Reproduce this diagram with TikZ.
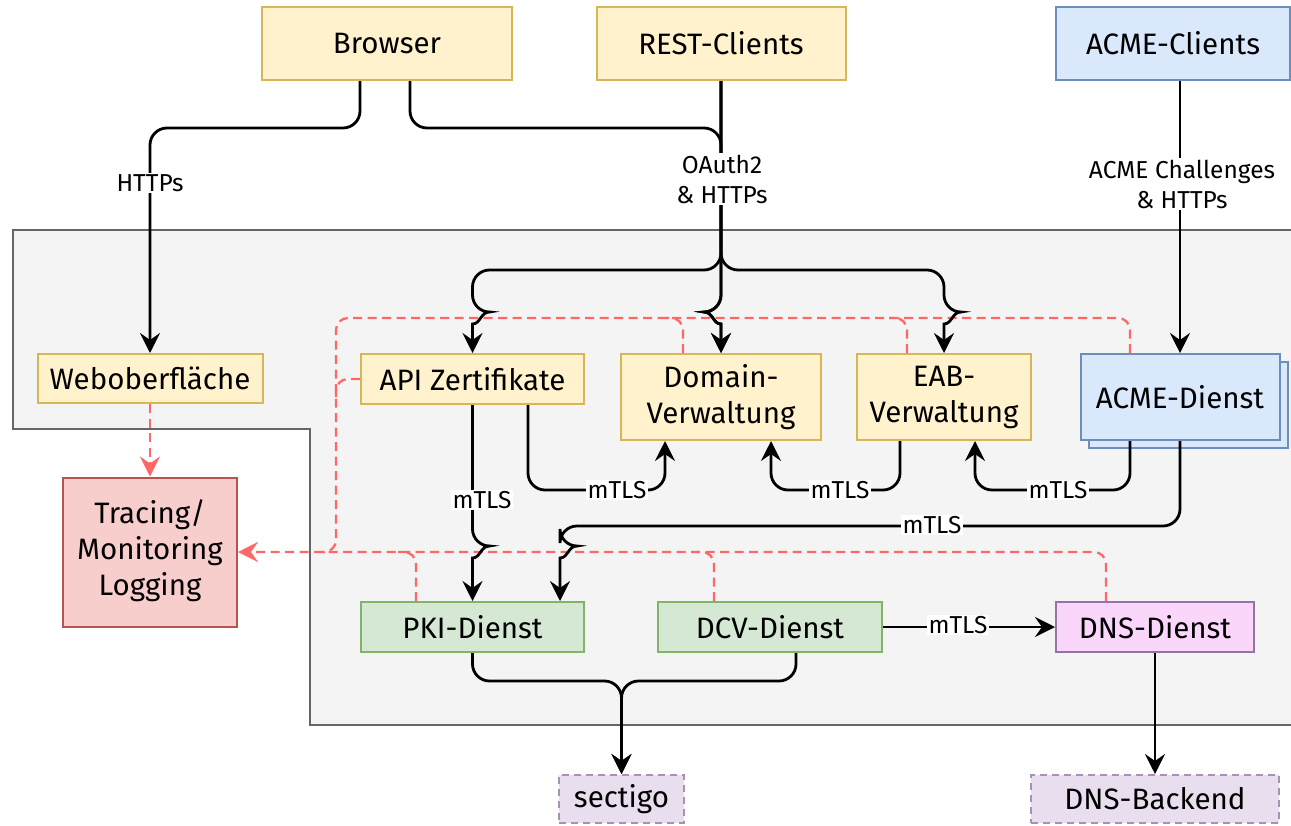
\documentclass[tikz,border=0pt]{standalone}
\usepackage{fontspec}
\setmainfont{Fira Sans}
\usetikzlibrary{arrows.meta}
\definecolor{yfill}{HTML}{FFF2CC}\definecolor{ydraw}{HTML}{D6B656}
\definecolor{bfill}{HTML}{DAE8FC}\definecolor{bdraw}{HTML}{6C8EBF}
\definecolor{rfill}{HTML}{F8CECC}\definecolor{rdraw}{HTML}{B85450}
\definecolor{gfill}{HTML}{D5E8D4}\definecolor{gdraw}{HTML}{82B366}
\definecolor{pfill}{HTML}{FAD7FA}\definecolor{pdraw}{HTML}{9673A6}
\definecolor{lfill}{HTML}{E8DEEE}
\definecolor{cfill}{HTML}{F4F4F4}\definecolor{cdraw}{HTML}{666666}
\definecolor{redd}{HTML}{FF6666}
\tikzset{
  box/.style={draw, line width=2pt, font=\fontsize{29.5}{36}\selectfont, align=center, inner sep=0pt},
  ybox/.style={box, fill=yfill, draw=ydraw},
  bbox/.style={box, fill=bfill, draw=bdraw},
  gbox/.style={box, fill=gfill, draw=gdraw},
  extbox/.style={box, fill=lfill, draw=pdraw!80, dashed, dash pattern=on 7pt off 5pt},
  tip/.style={-{Stealth[length=20pt,width=20pt,inset=7pt]}},
  conn/.style={line width=2.8pt, rounded corners=17pt, tip},
  red/.style={draw=redd, line width=2.3pt, dash pattern=on 9pt off 5.5pt, rounded corners=12pt},
  redarr/.style={red, tip, color=redd},
  lbl/.style={fill=white, inner sep=1.5pt, font=\fontsize{24.5}{30}\selectfont, align=center},
}
\begin{document}
\begin{tikzpicture}[x=1pt,y=-1pt]
\useasboundingbox (0,0) rectangle (1291,825);
% container
\draw[fill=cfill, draw=cdraw, line width=2pt] (13,230) -- (1292,230) -- (1292,725) -- (310,725) -- (310,429) -- (13,429) -- cycle;

% nodes
\node[ybox, minimum width=250, minimum height=73] (browser) at (387,43.5) {Browser};
\node[ybox, minimum width=249, minimum height=73] (rest) at (721,43.5) {REST-Clients};
\node[bbox, minimum width=234, minimum height=73] (acmec) at (1173,43.5) {ACME-Clients};
\node[ybox, minimum width=225, minimum height=49] (web) at (150,378.5) {Weboberfläche};
\node[ybox, minimum width=223, minimum height=50] (api) at (472.5,379) {API Zertifikate};
\node[ybox, minimum width=200, minimum height=86] (domain) at (721,397) {Domain-\\Verwaltung};
\node[ybox, minimum width=174, minimum height=86] (eab) at (944,397) {EAB-\\Verwaltung};
\node[bbox, minimum width=199, minimum height=86] (acmeback) at (1188,405) {};
\node[bbox, minimum width=199, minimum height=86] (acme) at (1180,397) {ACME-Dienst};
\node[box, fill=rfill, draw=rdraw, minimum width=174, minimum height=149] (trace) at (150,552) {\raisebox{-3pt}{\begin{tabular}{@{}c@{}}Tracing/\\Monitoring\\Logging\end{tabular}}};
\node[gbox, minimum width=223, minimum height=50] (pki) at (472.5,627) {PKI-Dienst};
\node[gbox, minimum width=224, minimum height=50] (dcv) at (770,627) {DCV-Dienst};
\node[box, fill=pfill, draw=pdraw, minimum width=198, minimum height=50] (dns) at (1155,627) {DNS-Dienst};
\node[extbox, minimum width=125, minimum height=48] (sectigo) at (621.5,799) {sectigo};
\node[extbox, minimum width=248, minimum height=48] (backend) at (1155,799) {DNS-Backend};

% free-end coordinates on the red buses
\coordinate (jtop) at (318,552);
\coordinate (jdom) at (665,318);
\coordinate (jeab) at (889,318);
\coordinate (japi) at (336,397);
\coordinate (jpki) at (398,552);
\coordinate (jdcv) at (696,552);

% red dashed (tracing)
\draw[redarr] (web.south) -- (trace.north);
\draw[redarr] ([xshift=-49]dns.north) -- (1106,552) -- (trace.east);
\draw[red] ([xshift=-50]acme.north) -- (1130,318) -- (336,318) -- (336,552) -- (jtop);
\draw[red] ([xshift=-38]domain.north) -- (683,318) -- (jdom);
\draw[red] ([xshift=-37]eab.north) -- (907,318) -- (jeab);
\draw[red] (api.west) -- (336,379) -- (japi);
\draw[red] ([xshift=-56.5]pki.north) -- (416,552) -- (jpki);
\draw[red] ([xshift=-56]dcv.north) -- (714,552) -- (jdcv);

% black connectors
\draw[conn] ([xshift=-27]browser.south) -- (360,128) -- (150,128) -- (web.north);
\draw[conn] ([xshift=23]browser.south) -- (410,128) -- (721,128) -- (721,312) [sharp corners] .. controls (713,312) and (713,324) .. (721,324) -- (domain.north);
\draw[conn] (rest.south) -- (721,270) -- (472.5,270) -- (472.5,312) [sharp corners] .. controls (480.5,312) and (480.5,324) .. (472.5,324) -- (api.north);
\draw[conn] (rest.south) -- (721,312) [sharp corners] .. controls (713,312) and (713,324) .. (721,324) -- (domain.north);
\draw[conn] (rest.south) -- (721,270) -- (944,270) -- (944,312) [sharp corners] .. controls (952,312) and (952,324) .. (944,324) -- (eab.north);
\draw[conn] (acme.north |- acmec.south) -- (acme.north);

\draw[conn] (api.south) -- (472.5,546) [sharp corners] .. controls (480.5,546) and (480.5,558) .. (472.5,558) -- (pki.north);
\draw[conn] ([xshift=55.5]api.south) -- (528,490) -- (665,490) -- ([xshift=-56]domain.south);
\draw[conn] ([xshift=-44]eab.south) -- (900,490) -- (771,490) -- ([xshift=50]domain.south);
\draw[conn] ([xshift=-50]acme.south) -- (1130,490) -- (975,490) -- ([xshift=31]eab.south);
\draw[conn] (acme.south) -- (1180,526) -- (560,526) -- (560,546) [sharp corners] .. controls (568,546) and (568,558) .. (560,558) -- (pki.north -| 560,0);
\draw[conn] (dcv.east) -- (dns.west);
\draw[conn] (pki.south) -- (472.5,681) -- (621.5,681) -- (sectigo.north);
\draw[conn] ([xshift=26]dcv.south) -- (796,681) -- (621.5,681) -- (sectigo.north);
\draw[conn] (dns.south) -- (backend.north);

% labels
\node[lbl] (l1) at (150,183) {HTTPs};
\node[lbl] (l2) at (722,179) {OAuth2\\\& HTTPs};
\node[lbl] (l3) at (1182,184) {ACME Challenges\\\& HTTPs};
\node[lbl] (l4) at (482,500) {mTLS};
\node[lbl] (l5) at (617,490) {mTLS};
\node[lbl] (l6) at (840,490) {mTLS};
\node[lbl] (l7) at (1058,490) {mTLS};
\node[lbl] (l8) at (932,525) {mTLS};
\node[lbl] (l9) at (958,625) {mTLS};
\end{tikzpicture}
\end{document}
